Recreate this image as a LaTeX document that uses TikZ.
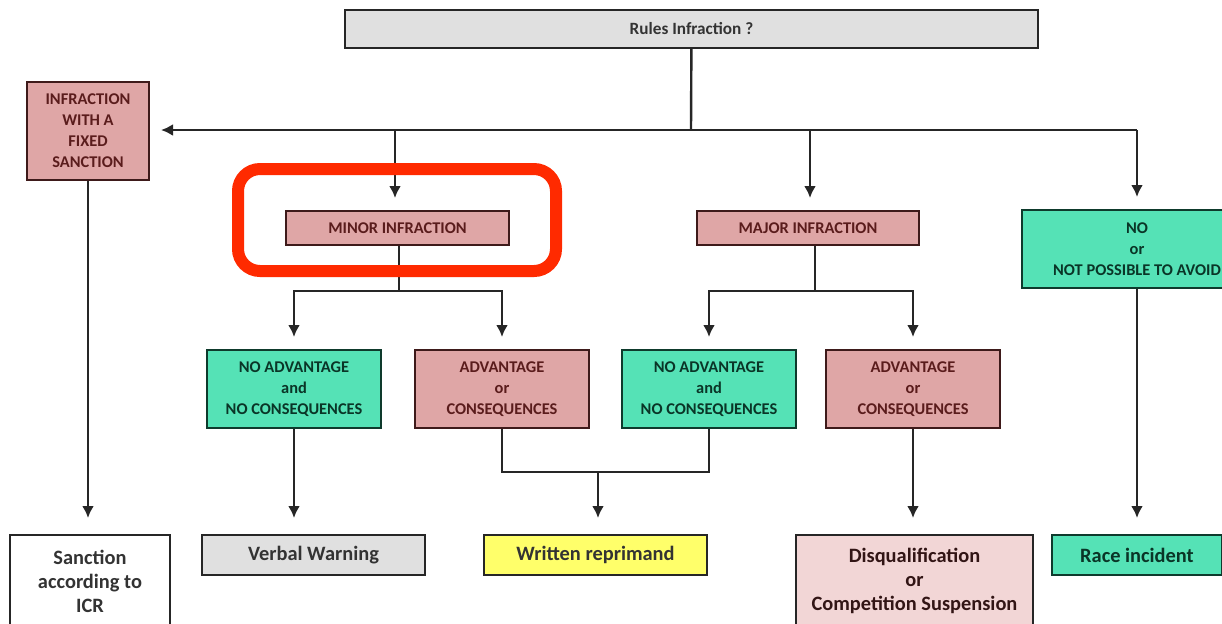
\documentclass[tikz,border=0pt]{standalone}
\usepackage{fontspec}
\setmainfont{Carlito}
\usetikzlibrary{arrows.meta}
\definecolor{pinkf}{HTML}{DFA6A6}
\definecolor{pinkd}{HTML}{3E1A1A}
\definecolor{pinkt}{HTML}{5A1C1C}
\definecolor{tealf}{HTML}{55E2B6}
\definecolor{teald}{HTML}{0E3A2C}
\definecolor{tealt}{HTML}{0A3527}
\definecolor{grayf}{HTML}{E0E0E0}
\definecolor{yellf}{HTML}{FFFF6A}
\definecolor{lpink}{HTML}{F2D6D6}
\definecolor{redmark}{HTML}{FF2A00}
\definecolor{txtg}{HTML}{333333}
\tikzset{
  box/.style={draw, line width=1pt, inner sep=1pt, align=center, font=\bfseries},
  capsbox/.style={box, font=\fontsize{8.2}{10.5}\selectfont\bfseries},
  pinkbox/.style={capsbox, fill=pinkf, draw=pinkd, text=pinkt},
  tealbox/.style={capsbox, fill=tealf, draw=teald, text=tealt},
  endbox/.style={box, draw=black!85, text=txtg, font=\fontsize{10.2}{12}\selectfont\bfseries},
  conn/.style={line width=1.2pt, draw=black!85},
  arr/.style={conn, -{Latex[length=6pt,width=6pt]}, shorten >=6pt},
  arrb/.style={arr, shorten >=8pt},
}
\begin{document}
\begin{tikzpicture}[x=0.5pt,y=-0.5pt]
\useasboundingbox (0,0) rectangle (1222,623);
% top
\node[box, fill=grayf, draw=black!85, text=txtg, font=\fontsize{8.6}{10}\selectfont\bfseries, minimum width=346.5pt, minimum height=19pt] (top) at (691.5,29) {Rules Infraction ?};
% level 1
\node[pinkbox, minimum width=61pt, minimum height=49pt] (fixed) at (88,131) {INFRACTION\\WITH A\\FIXED\\SANCTION};
\node[pinkbox, minimum width=111.5pt, minimum height=17pt] (minor) at (397.5,228) {MINOR INFRACTION};
\node[pinkbox, minimum width=111pt, minimum height=17pt] (major) at (808,228) {MAJOR INFRACTION};
\node[tealbox, minimum width=115pt, minimum height=39pt] (no) at (1137,249) {NO\\or\\NOT POSSIBLE TO AVOID};
% level 2
\node[tealbox, minimum width=87pt, minimum height=39pt] (na1) at (294,389) {NO ADVANTAGE\\and\\NO CONSEQUENCES};
\node[pinkbox, minimum width=87pt, minimum height=39pt] (adv1) at (502,389) {ADVANTAGE\\or\\CONSEQUENCES};
\node[tealbox, minimum width=87pt, minimum height=39pt] (na2) at (709,389) {NO ADVANTAGE\\and\\NO CONSEQUENCES};
\node[pinkbox, minimum width=87pt, minimum height=39pt] (adv2) at (913,389) {ADVANTAGE\\or\\CONSEQUENCES};
% results
\node[endbox, fill=white, minimum width=80pt, minimum height=46pt] (sanction) at (90,581) {Sanction\\according to\\ICR};
\node[endbox, fill=grayf, minimum width=111.5pt, minimum height=20pt] (verbal) at (313.5,555) {Verbal Warning};
\node[endbox, fill=yellf, minimum width=111.5pt, minimum height=20pt] (written) at (595.5,555) {Written reprimand};
\node[endbox, fill=lpink, text=pinkd!80!black, minimum width=118.5pt, minimum height=46pt] (disq) at (914.5,581) {Disqualification\\or\\Competition Suspension};
\node[endbox, fill=tealf, draw=teald, text=tealt, minimum width=85pt, minimum height=20pt] (race) at (1137,555) {Race incident};
% connectors
\coordinate (hub) at (691,130);
\coordinate (hr) at (1137,130);
\coordinate (hm) at (395,130);
\coordinate (hM) at (810,130);
\draw[conn] (top) -- (hub);
\draw[arr, shorten >=5.5pt] (hr) -- (fixed.east |- hr);
\draw[arr] (hm) -- (hm |- minor.north);
\draw[arr] (hM) -- (hM |- major.north);
\draw[arr] (hr) -- (no);
\coordinate (mj) at (399,291);
\coordinate (Mj) at (815,291);
\draw[conn] (mj |- minor.south) -- (mj);
\draw[conn] (Mj |- major.south) -- (Mj);
\draw[arr] (mj) -| (na1);
\draw[arr] (mj) -| (adv1);
\draw[arr] (Mj) -| (na2);
\draw[arr] (Mj) -| (adv2);
\coordinate (wj) at (598,472);
\draw[conn] (adv1) |- (wj);
\draw[conn] (na2) |- (wj);
\draw[arrb] (wj) -- (wj |- written.north);
\draw[arrb] (na1) -- (na1 |- verbal.north);
\draw[arrb] (adv2) -- (adv2 |- disq.north);
\draw[arrb] (no) -- (race);
\draw[arrb] (fixed) -- (fixed |- sanction.north);
% highlight
\draw[redmark, line width=6pt, rounded corners=11pt] (238,169) rectangle (556,271);
\end{tikzpicture}
\end{document}
